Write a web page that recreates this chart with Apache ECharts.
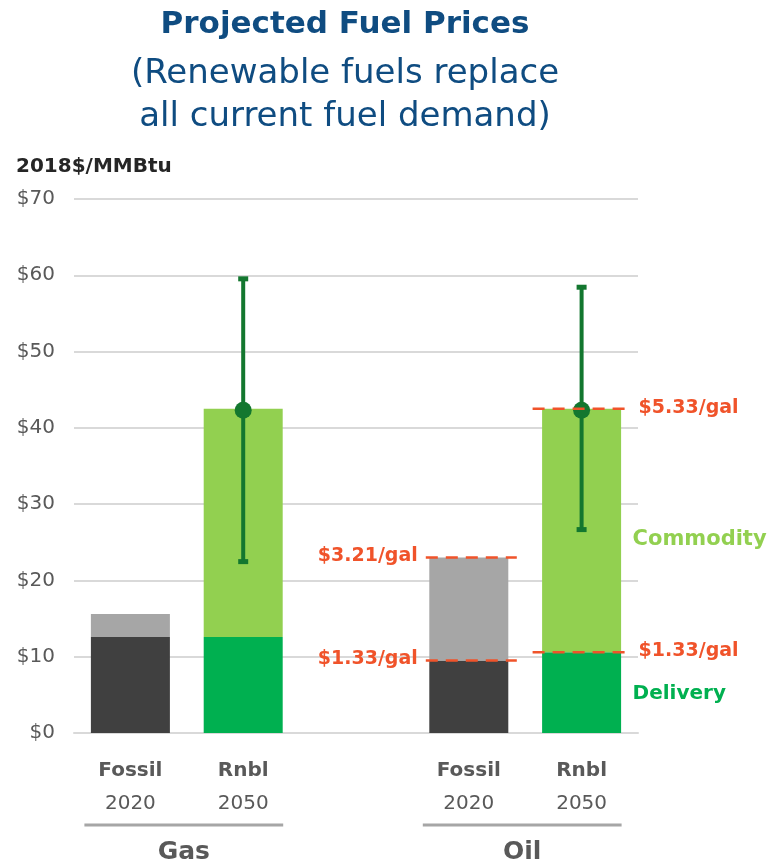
<!DOCTYPE html>
<html>
<head>
<meta charset="utf-8">
<script src="https://cdn.jsdelivr.net/npm/echarts@6/dist/echarts.min.js"></script>
<style>
  html, body { margin: 0; padding: 0; background: #fff; }
  #chart { width: 771px; height: 864px; }
</style>
</head>
<body>
<div id="chart"></div>
<script>
  // categories (blank slot separates Gas and Oil)
  const fuelType = ['Fossil', 'Rnbl', '', 'Fossil', 'Rnbl'];
  const fuelYear = ['2020', '2050', '', '2020', '2050'];
  const groups = [[0, 1, 'Gas'], [3, 4, 'Oil']];

  // $/MMBtu
  const delivery = [12.6, 12.6, null, 9.5, 10.6];
  const commodity = [3.0, 29.9, null, 13.5, 31.9];
  // error bars on renewable bars: [category, low, mid, high]
  const rangeData = [[1, 22.4, 42.3, 59.6], [4, 26.6, 42.3, 58.5]];
  // $/gal reference lines: [category, value, text, side]
  const galLines = [
    [3, 23.0, '$3.21/gal', 'left'],
    [3, 9.5, '$1.33/gal', 'left'],
    [4, 42.5, '$5.33/gal', 'right'],
    [4, 10.6, '$1.33/gal', 'right']
  ];
  const partLabels = [[4, 25.3, 'Commodity'], [4, 5.1, 'Delivery']];
  const yTicks = [0, 10, 20, 30, 40, 50, 60, 70];

  const FONT = '"DejaVu Sans"';
  const darkCol = ['#404040', '#00b050', null, '#404040', '#00b050'];
  const lightCol = ['#a6a6a6', '#92d050', null, '#a6a6a6', '#92d050'];
  const partCol = ['#92d050', '#00b050'];
  const partSize = [21, 20];

  const chart = echarts.init(document.getElementById('chart'));

  const option = {
    animation: false,
    textStyle: { fontFamily: FONT },
    title: [
      {
        text: 'Projected Fuel Prices',
        left: 340, top: 4, textAlign: 'center',
        textStyle: { fontSize: 31, fontWeight: 'bold', color: '#0f4c81', fontFamily: FONT }
      },
      {
        text: '(Renewable fuels replace\nall current fuel demand)',
        left: 340, top: 48, textAlign: 'center',
        textStyle: { fontSize: 34, fontWeight: 'normal', color: '#0f4c81', lineHeight: 43, fontFamily: FONT }
      },
      {
        text: '2018$/MMBtu',
        left: 11, top: 152,
        textStyle: { fontSize: 20, fontWeight: 'bold', color: '#262626', fontFamily: FONT }
      }
    ],
    grid: { left: 74, right: 133, top: 199, bottom: 131 },
    xAxis: {
      type: 'category',
      data: fuelType,
      axisTick: { show: false },
      axisLine: { lineStyle: { color: '#d9d9d9', width: 2 } },
      axisLabel: {
        margin: 21,
        formatter: function (v, i) {
          return v ? '{a|' + v + '}\n{b|' + fuelYear[i] + '}' : '';
        },
        rich: {
          a: { fontSize: 20, fontWeight: 'bold', color: '#595959', lineHeight: 33, fontFamily: FONT },
          b: { fontSize: 20, color: '#595959', lineHeight: 33, fontFamily: FONT }
        }
      }
    },
    yAxis: {
      type: 'value',
      min: 0, max: 70, interval: 10,
      axisLine: { show: false },
      axisTick: { show: false },
      splitLine: { lineStyle: { color: '#d9d9d9', width: 2 } },
      axisLabel: {
        margin: 19,
        fontSize: 20,
        color: '#595959',
        formatter: function (v) { return yTicks.indexOf(v) >= 0 ? '$' + v : ''; }
      }
    },
    series: [
      {
        name: 'Delivery',
        type: 'bar',
        stack: 'total',
        barWidth: 79,
        data: delivery.map(function (v, i) {
          return { value: v, itemStyle: { color: darkCol[i] } };
        })
      },
      {
        name: 'Commodity',
        type: 'bar',
        stack: 'total',
        data: commodity.map(function (v, i) {
          return { value: v, itemStyle: { color: lightCol[i] } };
        })
      },
      {
        // error bars
        type: 'custom',
        z: 5,
        data: rangeData,
        renderItem: function (params, api) {
          const lo = api.coord([api.value(0), api.value(1)]);
          const hi = api.coord([api.value(0), api.value(3)]);
          const c = '#13772f';
          return {
            type: 'group',
            children: [
              { type: 'line', shape: { x1: lo[0], y1: lo[1], x2: hi[0], y2: hi[1] }, style: { stroke: c, lineWidth: 4 } },
              { type: 'rect', shape: { x: hi[0] - 5, y: hi[1] - 2, width: 10, height: 5 }, style: { fill: c } },
              { type: 'rect', shape: { x: lo[0] - 5, y: lo[1] - 3, width: 10, height: 5 }, style: { fill: c } }
            ]
          };
        }
      },
      {
        type: 'scatter',
        z: 6,
        symbolSize: 17,
        itemStyle: { color: '#13772f', opacity: 1 },
        data: rangeData.map(function (d) { return [d[0], d[2]]; })
      },
      {
        // $/gal dashed lines
        type: 'custom',
        z: 7,
        data: galLines,
        renderItem: function (params, api) {
          const p = api.coord([api.value(0), api.value(1)]);
          const d = galLines[params.dataIndex];
          const half = 39;
          const left = d[3] === 'left';
          const x1 = left ? p[0] - half - 4 : p[0] - half - 10;
          const x2 = left ? p[0] + half + 9 : p[0] + half + 4;
          return {
            type: 'group',
            children: [
              { type: 'line', shape: { x1: x1, y1: p[1], x2: x2, y2: p[1] },
                style: { stroke: '#f0532a', lineWidth: 2.5, lineDash: [12, 8] } },
              { type: 'text',
                style: {
                  x: left ? x1 - 8 : x2 + 14, y: p[1] - 1,
                  text: d[2], align: left ? 'right' : 'left', verticalAlign: 'middle',
                  fill: '#f0532a', font: 'bold 19px ' + FONT
                } }
            ]
          };
        }
      },
      {
        // component labels
        type: 'custom',
        z: 7,
        data: partLabels,
        renderItem: function (params, api) {
          const p = api.coord([api.value(0), api.value(1)]);
          return {
            type: 'text',
            style: {
              x: p[0] + 51, y: p[1], text: partLabels[params.dataIndex][2],
              align: 'left', verticalAlign: 'middle',
              fill: partCol[params.dataIndex], font: 'bold ' + partSize[params.dataIndex] + 'px ' + FONT
            }
          };
        }
      },
      {
        // group underline + name
        type: 'custom',
        data: groups,
        clip: false,
        renderItem: function (params, api) {
          const a = api.coord([api.value(0), 0]);
          const b = api.coord([api.value(1), 0]);
          const y = a[1] + 92;
          return {
            type: 'group',
            children: [
              { type: 'line', shape: { x1: a[0] - 46, y1: y, x2: b[0] + 40, y2: y },
                style: { stroke: '#a6a6a6', lineWidth: 3 } },
              { type: 'text',
                style: {
                  x: (a[0] + b[0]) / 2 - 3, y: y + 27, text: groups[params.dataIndex][2],
                  align: 'center', verticalAlign: 'middle', fill: '#595959', font: 'bold 25px ' + FONT
                } }
            ]
          };
        }
      }
    ]
  };

  chart.setOption(option);
</script>
</body>
</html>
